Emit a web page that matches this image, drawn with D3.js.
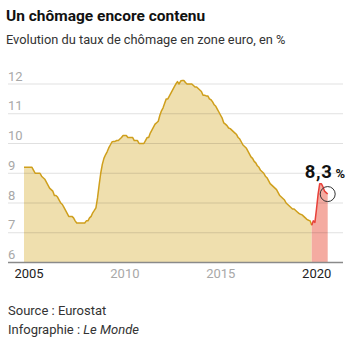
<!DOCTYPE html>
<html><head><meta charset="utf-8">
<script src="https://cdn.jsdelivr.net/npm/d3@7"></script>
<style>
body{margin:0;background:#fff;}
svg{display:block;font-family:Roboto,"Noto Sans",sans-serif;}
</style></head>
<body>
<svg id="c" width="350" height="339"></svg>
<script>
// Monthly euro-area unemployment rate (%), Jan 2005 – Nov 2020
const startYear = 2005;
const values = [
  // 2005
  9.2,9.2,9.2,9.2,9.2,9.2,9.1,9.0,9.0,9.0,9.0,8.9,
  // 2006
  8.85,8.8,8.7,8.6,8.5,8.45,8.4,8.25,8.25,8.2,8.1,8.0,
  // 2007
  7.95,7.85,7.75,7.65,7.55,7.55,7.55,7.5,7.4,7.33,7.33,7.33,
  // 2008
  7.33,7.33,7.33,7.4,7.4,7.5,7.55,7.67,7.75,7.84,8.17,8.6,
  // 2009
  9.0,9.3,9.5,9.62,9.72,9.85,9.95,10.05,10.07,10.07,10.1,10.1,
  // 2010
  10.15,10.2,10.27,10.27,10.27,10.2,10.2,10.2,10.2,10.1,10.1,10.1,
  // 2011
  10.0,10.0,10.0,10.0,10.1,10.2,10.2,10.35,10.45,10.55,10.65,10.7,
  // 2012
  10.75,10.95,11.1,11.2,11.35,11.5,11.5,11.6,11.7,11.8,11.9,12.0,
  // 2013
  12.08,12.0,12.1,12.12,12.12,12.05,12.0,12.0,12.0,12.0,11.95,11.9,
  // 2014
  11.9,11.85,11.8,11.75,11.62,11.62,11.6,11.6,11.5,11.47,11.4,11.3,
  // 2015
  11.25,11.15,11.05,10.95,10.85,10.69,10.65,10.6,10.52,10.5,10.45,10.4,
  // 2016
  10.35,10.3,10.2,10.15,10.05,9.95,9.9,9.85,9.75,9.65,9.55,9.5,
  // 2017
  9.4,9.35,9.25,9.2,9.1,9.05,9.0,8.9,8.85,8.75,8.65,8.6,
  // 2018
  8.55,8.5,8.45,8.35,8.25,8.2,8.15,8.1,8.0,7.95,7.9,7.85,
  // 2019
  7.8,7.8,7.75,7.7,7.65,7.62,7.6,7.55,7.5,7.45,7.42,7.4,
  // 2020 (Jan–Nov)
  7.25,7.4,7.35,7.8,8.3,8.65,8.65,8.55,8.4,8.35,8.3
];
const crisisStart = 180; // index of Jan 2020, start of the red segment
const yTicks = [6,7,8,9,10,11,12];
const xTicks = [2005,2010,2015,2020];
const xTickStrong = [2005,2020];
const lastLabel = "8,3";

const data = values.map((v,i)=>({t: startYear + i/12, v}));
const svg = d3.select("#c");

const x = d3.scaleLinear().domain([startYear, startYear + (values.length-1)/12]).range([24, 327.7]);
const y = d3.scaleLinear().domain([6, 12]).range([262.5, 84]);

// Title
svg.append("text").attr("x",6).attr("y",21).attr("font-size",15.5).attr("font-weight",700).attr("fill","#111")
  .text("Un chômage encore contenu");
svg.append("text").attr("x",6).attr("y",44).attr("font-size",12.8).attr("fill","#333")
  .text("Evolution du taux de chômage en zone euro, en %");

const pre = data.slice(0, crisisStart+1);
const post = data.slice(crisisStart);

const area = d3.area().x(d=>x(d.t)).y0(y(6)).y1(d=>y(d.v));
const line = d3.line().x(d=>x(d.t)).y(d=>y(d.v));

svg.append("path").datum(pre).attr("d",area).attr("fill","#efdfae");
svg.append("path").datum(post).attr("d",area).attr("fill","#f4aba1");

// grid
const grid = svg.append("g");
grid.selectAll("line").data(yTicks.filter(t=>t>6)).join("line")
  .attr("x1",8).attr("x2",343).attr("y1",d=>y(d)).attr("y2",d=>y(d))
  .attr("stroke","rgba(0,0,0,0.12)").attr("stroke-width",1);

svg.append("path").datum(pre).attr("d",line).attr("fill","none").attr("stroke","#cf9f1c").attr("stroke-width",1.5).attr("stroke-linejoin","round");
svg.append("path").datum(post).attr("d",line).attr("fill","none").attr("stroke","#e8413a").attr("stroke-width",1.5).attr("stroke-linejoin","round");

// y labels
svg.append("g").selectAll("text").data(yTicks).join("text")
  .attr("x",8).attr("y",d=>y(d)-3.5).attr("font-size",13).attr("fill","#a8a8a8")
  .text(d=>d);

// baseline
svg.append("line").attr("x1",8).attr("x2",343).attr("y1",y(6)).attr("y2",y(6))
  .attr("stroke","#8a8a8a").attr("stroke-width",1.5);

// x labels
svg.append("g").selectAll("text").data(xTicks).join("text")
  .attr("x",d=>x(d)+5).attr("y",278).attr("text-anchor","middle").attr("font-size",13)
  .attr("fill",d=>xTickStrong.includes(d)?"#222":"#a8a8a8")
  .text(d=>d);

// last point marker
const last = data[data.length-1];
svg.append("circle").attr("cx",x(last.t)).attr("cy",y(last.v)).attr("r",7.5)
  .attr("fill","none").attr("stroke","#333").attr("stroke-width",1);
const lbl = svg.append("text").attr("x",345).attr("y",177.5).attr("text-anchor","end").attr("fill","#111");
lbl.append("tspan").attr("font-size",18.5).attr("font-weight",700).attr("letter-spacing",0.6).text(lastLabel);
lbl.append("tspan").attr("font-size",13).attr("font-weight",700).attr("dx",3).text("%");

// source
svg.append("text").attr("x",8).attr("y",315).attr("font-size",13).attr("fill","#333").text("Source : Eurostat");
const inf = svg.append("text").attr("x",8).attr("y",334).attr("font-size",13).attr("fill","#333");
inf.append("tspan").text("Infographie : ");
inf.append("tspan").attr("font-style","italic").text("Le Monde");
</script>
</body></html>
